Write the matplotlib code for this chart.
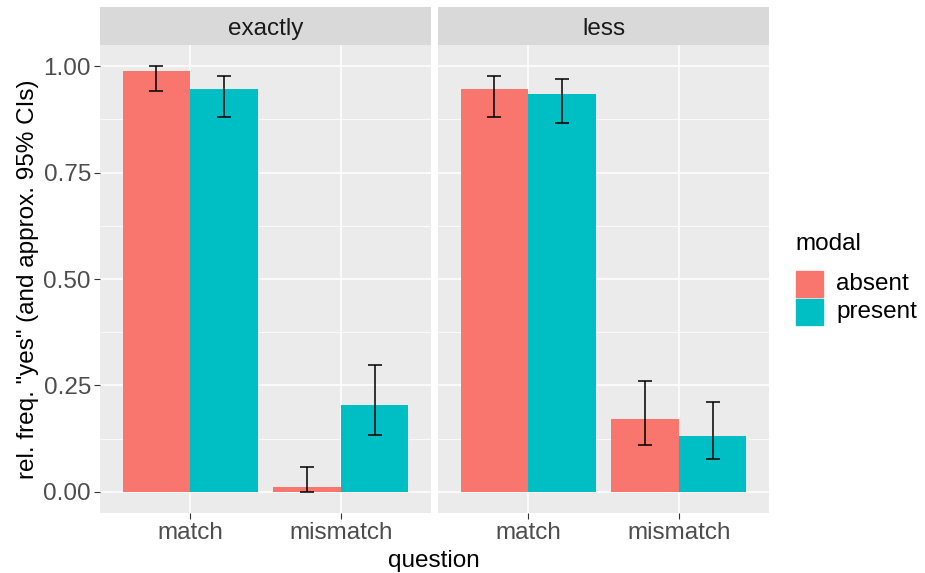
import matplotlib
matplotlib.use("Agg")
import matplotlib.pyplot as plt
import numpy as np

plt.rcParams["font.family"] = ["Liberation Sans", "DejaVu Sans"]

PANELS = ["exactly", "less"]
QUESTIONS = ["match", "mismatch"]
MODAL = ["absent", "present"]
COLORS = {"absent": "#F8766D", "present": "#00BFC4"}

# mean, lower CI, upper CI  -- [panel][modal] over questions
MEAN = {
    "exactly": {"absent": [0.988, 0.010], "present": [0.946, 0.205]},
    "less": {"absent": [0.946, 0.172], "present": [0.934, 0.130]},
}
LOW = {
    "exactly": {"absent": [0.941, 0.000], "present": [0.880, 0.134]},
    "less": {"absent": [0.880, 0.109], "present": [0.866, 0.076]},
}
HIGH = {
    "exactly": {"absent": [1.000, 0.058], "present": [0.977, 0.297]},
    "less": {"absent": [0.977, 0.261], "present": [0.970, 0.212]},
}

W, H = 925, 573
FS = 17.5
fig = plt.figure(figsize=(W / 100, H / 100), dpi=100)

def fx(px):
    return px / W

def fy(py):
    return 1 - py / H

panel_x = [(100, 431), (438, 769)]
top, bottom, strip_top = 45, 513, 7
bw = 0.45
for k, (panel, (x0, x1)) in enumerate(zip(PANELS, panel_x)):
    ax = fig.add_axes([fx(x0), fy(bottom), fx(x1 - x0), fy(top) - fy(bottom)])
    ax.set_facecolor("#EBEBEB")
    for s in ax.spines.values():
        s.set_visible(False)
    ax.set_xlim(0.4, 2.6)
    ax.set_ylim(-0.05, 1.05)
    ax.set_yticks([0, 0.25, 0.5, 0.75, 1.0])
    ax.set_yticks([0.125, 0.375, 0.625, 0.875], minor=True)
    ax.set_xticks([1, 2])
    ax.set_xticklabels(QUESTIONS)
    ax.grid(True, which="major", color="white", lw=1.1)
    ax.grid(True, which="minor", axis="y", color="white", lw=0.55)
    ax.set_axisbelow(True)
    ax.tick_params(axis="both", which="major", length=4, color="#333333", pad=2.5,
                   labelsize=FS, labelcolor="#4D4D4D", width=0.8)
    ax.tick_params(axis="y", which="minor", length=0)
    if k == 0:
        ax.set_yticklabels(["0.00", "0.25", "0.50", "0.75", "1.00"])
    else:
        ax.tick_params(axis="y", which="major", length=0, labelleft=False)
    xs = np.arange(1, len(QUESTIONS) + 1)
    for j, m in enumerate(MODAL):
        pos = xs + (j - 0.5) * bw
        mean = np.array(MEAN[panel][m])
        lo = np.array(LOW[panel][m])
        hi = np.array(HIGH[panel][m])
        ax.bar(pos, mean, width=bw, color=COLORS[m], label=m, zorder=2)
        ax.errorbar(pos, mean, yerr=[mean - lo, hi - mean], fmt="none",
                    ecolor="black", elinewidth=1.1, capsize=5, capthick=1.1, zorder=3)
    # facet strip
    sax = fig.add_axes([fx(x0), fy(top), fx(x1 - x0), fy(strip_top) - fy(top)])
    sax.set_facecolor("#D9D9D9")
    sax.set_xticks([]); sax.set_yticks([])
    for s in sax.spines.values():
        s.set_visible(False)
    sax.text(0.5, 0.42, panel, ha="center", va="center", fontsize=FS,
             color="#1A1A1A", transform=sax.transAxes)

fig.text(fx(434), fy(561), "question", ha="center", va="center", fontsize=FS)
fig.text(fx(28), fy(279), 'rel. freq. "yes" (and approx. 95% CIs)', ha="center",
         va="center", rotation=90, fontsize=FS)

# legend
fig.text(fx(795), fy(244), "modal", ha="left", va="center", fontsize=FS)
for i, m in enumerate(MODAL):
    yk = 271 + i * 28
    fig.patches.append(plt.Rectangle((fx(796), fy(yk + 26)), fx(27), fy(yk) - fy(yk + 26),
                                     transform=fig.transFigure, color=COLORS[m]))
    fig.text(fx(836), fy(yk + 13), m, ha="left", va="center", fontsize=FS)

fig.savefig("out.png", dpi=100)
